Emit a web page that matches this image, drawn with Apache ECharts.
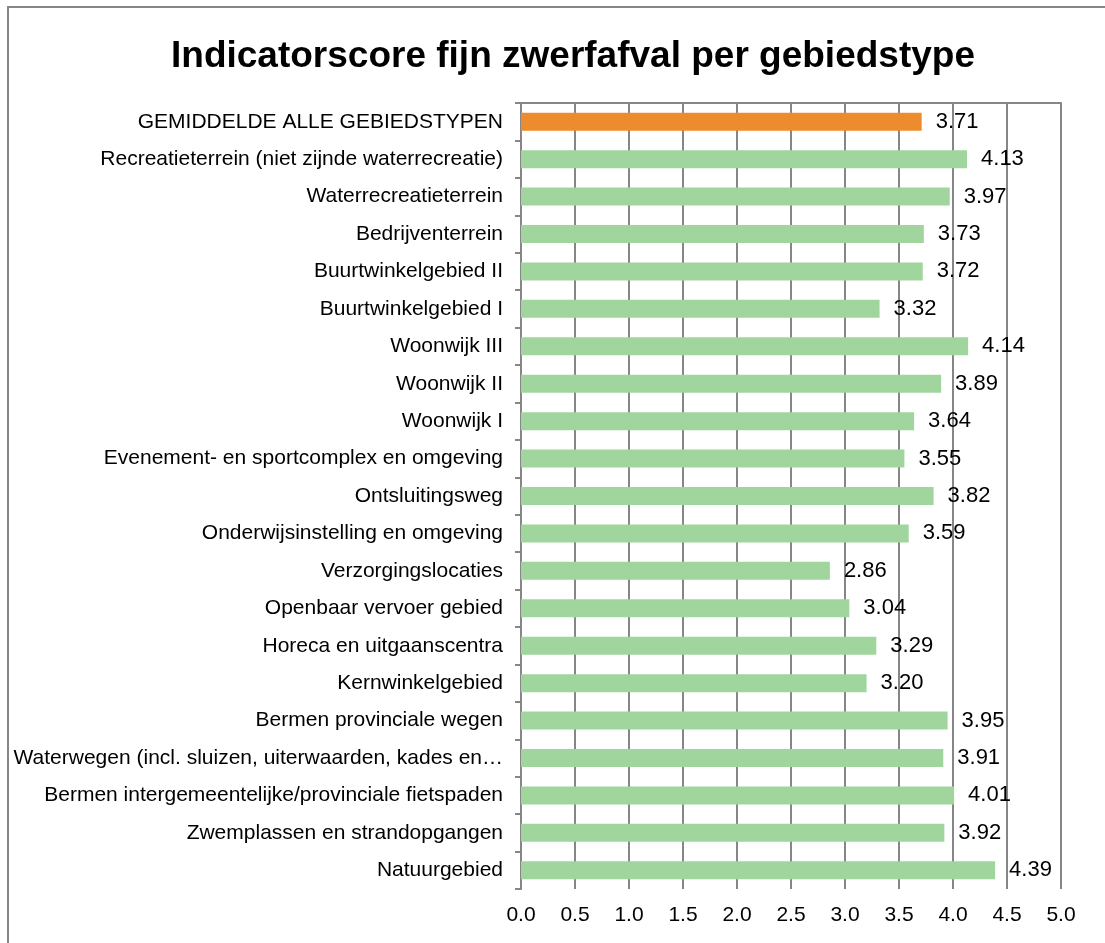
<!DOCTYPE html>
<html><head><meta charset="utf-8">
<script src="https://cdn.jsdelivr.net/npm/echarts@6/dist/echarts.min.js"></script>
<style>html,body{margin:0;padding:0;background:#fff}#c{width:1105px;height:943px}</style>
</head><body><div id="c"></div>
<script>
const title = 'Indicatorscore fijn zwerfafval per gebiedstype';
const categories = [
  'GEMIDDELDE ALLE GEBIEDSTYPEN',
  'Recreatieterrein (niet zijnde waterrecreatie)',
  'Waterrecreatieterrein',
  'Bedrijventerrein',
  'Buurtwinkelgebied II',
  'Buurtwinkelgebied I',
  'Woonwijk III',
  'Woonwijk II',
  'Woonwijk I',
  'Evenement- en sportcomplex en omgeving',
  'Ontsluitingsweg',
  'Onderwijsinstelling en omgeving',
  'Verzorgingslocaties',
  'Openbaar vervoer gebied',
  'Horeca en uitgaanscentra',
  'Kernwinkelgebied',
  'Bermen provinciale wegen',
  'Waterwegen (incl. sluizen, uiterwaarden, kades en\u2026',
  'Bermen intergemeentelijke/provinciale fietspaden',
  'Zwemplassen en strandopgangen',
  'Natuurgebied'
];
const values = [3.71,4.13,3.97,3.73,3.72,3.32,4.14,3.89,3.64,3.55,3.82,3.59,2.86,3.04,3.29,3.20,3.95,3.91,4.01,3.92,4.39];
const highlightIndex = 0;

const chart = echarts.init(document.getElementById('c'), null, {renderer:'canvas'});
const font = 'Liberation Sans, Arial, sans-serif';
chart.setOption({
  animation:false,
  title:{text:title,left:568,top:33,textAlign:'center',textStyle:{fontFamily:font,fontSize:37,fontWeight:'bold',color:'#000'}},
  graphic:[{type:'rect',shape:{x:8,y:7,width:1200,height:1000},style:{fill:'none',stroke:'#868686',lineWidth:2},silent:true}],
  grid:{left:521,top:103,width:540,height:786,containLabel:false},
  xAxis:[{type:'value',min:0,max:5,interval:0.5,
    axisLine:{show:false},axisTick:{show:false},
    splitLine:{show:true,lineStyle:{color:'#868686',width:2}},
    axisLabel:{fontFamily:font,fontSize:21,color:'#000',margin:16,formatter:v=>v.toFixed(1)}},
   {type:'value',position:'top',min:0,max:5,interval:0.5,axisLine:{show:true,onZero:false,lineStyle:{color:'#868686',width:2}},
    axisTick:{show:false},axisLabel:{show:false},splitLine:{show:false}}],
  yAxis:{type:'category',inverse:true,data:categories,
    axisLine:{show:true,lineStyle:{color:'#868686',width:2}},
    axisTick:{show:true,length:6,lineStyle:{color:'#868686',width:2}},
    axisLabel:{fontFamily:font,fontSize:21,color:'#000',margin:18}},
  series:[{type:'bar',xAxisIndex:0,barWidth:18,
    data:values.map((v,i)=>({value:v,itemStyle:{color:i===highlightIndex?'#ED8B2F':'#A1D59E'}})),
    label:{show:true,position:'right',distance:14,fontFamily:font,fontSize:22,color:'#000',formatter:p=>p.value.toFixed(2)}}]
});
</script></body></html>
